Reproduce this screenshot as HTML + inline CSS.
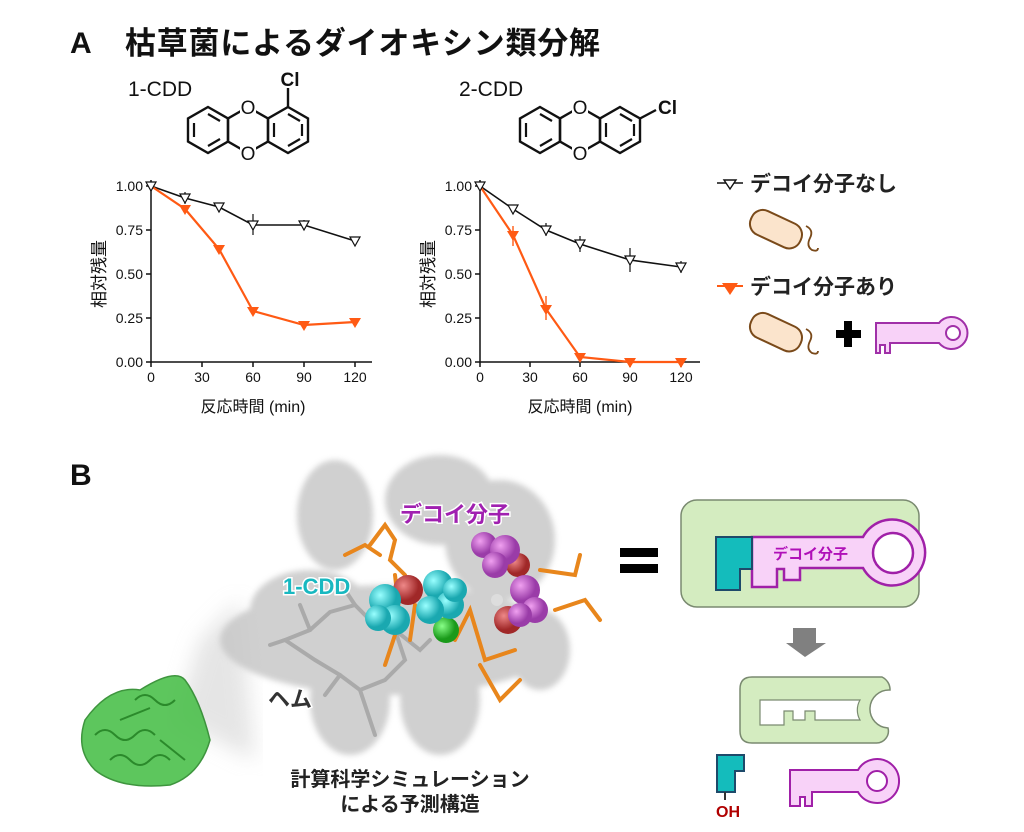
<!DOCTYPE html>
<html><head><meta charset="utf-8"><style>
html,body{margin:0;padding:0;background:#fff;}
svg{display:block;font-family:"Liberation Sans","Noto Sans CJK JP",sans-serif;}
</style></head><body>
<svg width="1024" height="832" viewBox="0 0 1024 832" xmlns="http://www.w3.org/2000/svg">
<defs>
<g id="ring"><polygon points="0,-23 20,-11.5 20,11.5 0,23 -20,11.5 -20,-11.5" fill="none" stroke="#111" stroke-width="2.4"/></g>
<filter id="bl"><feGaussianBlur stdDeviation="3"/></filter>
<filter id="bl2"><feGaussianBlur stdDeviation="10"/></filter>
<radialGradient id="cy" cx="35%" cy="35%"><stop offset="0" stop-color="#9ff"/><stop offset="1" stop-color="#1aa8b0"/></radialGradient>
<radialGradient id="mg" cx="35%" cy="35%"><stop offset="0" stop-color="#f0a0f0"/><stop offset="1" stop-color="#9a3ca8"/></radialGradient>
<radialGradient id="rd" cx="35%" cy="35%"><stop offset="0" stop-color="#e88"/><stop offset="1" stop-color="#a02828"/></radialGradient>
<radialGradient id="gr" cx="35%" cy="35%"><stop offset="0" stop-color="#8f8"/><stop offset="1" stop-color="#1a9a1a"/></radialGradient>
<g id="bact">
<rect x="0" y="0" width="54" height="26" rx="12" fill="#fbe4cc" stroke="#7a4a1a" stroke-width="2"/>
</g>
</defs>

<text x="70" y="53" font-size="30" font-weight="bold" fill="#111">A</text>
<text x="125" y="54" font-size="31" font-weight="bold" fill="#111" textLength="475">枯草菌によるダイオキシン類分解</text>

<text x="128" y="96" font-size="21" fill="#111">1-CDD</text>
<g transform="translate(208,130)"><use href="#ring"/><use href="#ring" x="40"/><use href="#ring" x="80"/>
<path d="M-14,-7 L-14,7 M0,-16 L12,-9 M0,16 L12,9" stroke="#111" stroke-width="2.2" fill="none"/>
<path d="M66,-7 L66,7" stroke="#111" stroke-width="2.2"/>
<path d="M80,-16 L92,-9 M94,-6 V6 M80,16 L92,9" stroke="#111" stroke-width="2.2" fill="none"/>
<path d="M80,-23 V-42" stroke="#111" stroke-width="2.4"/>
<rect x="32" y="-32" width="16" height="18" fill="#fff"/><rect x="32" y="14" width="16" height="18" fill="#fff"/>
<text x="40" y="-16" font-size="19" text-anchor="middle" fill="#111">O</text>
<text x="40" y="30" font-size="19" text-anchor="middle" fill="#111">O</text>
<text x="82" y="-44" font-size="19" font-weight="bold" text-anchor="middle" fill="#111">Cl</text>
</g>
<text x="459" y="96" font-size="21" fill="#111">2-CDD</text>
<g transform="translate(540,130)"><use href="#ring"/><use href="#ring" x="40"/><use href="#ring" x="80"/>
<path d="M-14,-7 L-14,7 M0,-16 L12,-9 M0,16 L12,9" stroke="#111" stroke-width="2.2" fill="none"/>
<path d="M66,-7 L66,7" stroke="#111" stroke-width="2.2"/>
<path d="M80,-16 L92,-9 M94,-6 V6 M80,16 L92,9" stroke="#111" stroke-width="2.2" fill="none"/>
<path d="M100,-11.5 L116,-20" stroke="#111" stroke-width="2.4"/>
<rect x="32" y="-32" width="16" height="18" fill="#fff"/><rect x="32" y="14" width="16" height="18" fill="#fff"/>
<text x="40" y="-16" font-size="19" text-anchor="middle" fill="#111">O</text>
<text x="40" y="30" font-size="19" text-anchor="middle" fill="#111">O</text>
<text x="118" y="-16" font-size="19" font-weight="bold" fill="#111">Cl</text>
</g>

<g font-size="14" fill="#111">
<path d="M151,180 V362 H372" stroke="#111" stroke-width="1.5" fill="none"/>
<g stroke="#111" stroke-width="1.5">
<line x1="146" y1="186" x2="151" y2="186"/><line x1="146" y1="230" x2="151" y2="230"/><line x1="146" y1="274" x2="151" y2="274"/><line x1="146" y1="318" x2="151" y2="318"/><line x1="146" y1="362" x2="151" y2="362"/>
<line x1="151" y1="362" x2="151" y2="367"/><line x1="202" y1="362" x2="202" y2="367"/><line x1="253" y1="362" x2="253" y2="367"/><line x1="304" y1="362" x2="304" y2="367"/><line x1="355" y1="362" x2="355" y2="367"/>
</g>
<g text-anchor="end"><text x="143" y="191">1.00</text><text x="143" y="235">0.75</text><text x="143" y="279">0.50</text><text x="143" y="323">0.25</text><text x="143" y="367">0.00</text></g>
<g text-anchor="middle"><text x="151" y="382">0</text><text x="202" y="382">30</text><text x="253" y="382">60</text><text x="304" y="382">90</text><text x="355" y="382">120</text></g>
<text x="253" y="412" font-size="16" text-anchor="middle">反応時間 (min)</text>
<text transform="translate(105,274) rotate(-90)" font-size="17" text-anchor="middle">相対残量</text>
<polyline points="151,186 185,198 219,207 253,225 304,225 355,241" fill="none" stroke="#111" stroke-width="1.6"/>
<g stroke="#111" stroke-width="1.2"><line x1="185" y1="192" x2="185" y2="204"/><line x1="253" y1="214" x2="253" y2="235"/><line x1="304" y1="220" x2="304" y2="230"/></g>
<polyline points="151,186 185,209 219,249 253,311 304,325 355,322" fill="none" stroke="#ff5a14" stroke-width="2.2"/>
</g>
<g font-size="14" fill="#111">
<path d="M480,180 V362 H700" stroke="#111" stroke-width="1.5" fill="none"/>
<g stroke="#111" stroke-width="1.5">
<line x1="475" y1="186" x2="480" y2="186"/><line x1="475" y1="230" x2="480" y2="230"/><line x1="475" y1="274" x2="480" y2="274"/><line x1="475" y1="318" x2="480" y2="318"/><line x1="475" y1="362" x2="480" y2="362"/>
<line x1="480" y1="362" x2="480" y2="367"/><line x1="530" y1="362" x2="530" y2="367"/><line x1="580" y1="362" x2="580" y2="367"/><line x1="630" y1="362" x2="630" y2="367"/><line x1="681" y1="362" x2="681" y2="367"/>
</g>
<g text-anchor="end"><text x="472" y="191">1.00</text><text x="472" y="235">0.75</text><text x="472" y="279">0.50</text><text x="472" y="323">0.25</text><text x="472" y="367">0.00</text></g>
<g text-anchor="middle"><text x="480" y="382">0</text><text x="530" y="382">30</text><text x="580" y="382">60</text><text x="630" y="382">90</text><text x="681" y="382">120</text></g>
<text x="580" y="412" font-size="16" text-anchor="middle">反応時間 (min)</text>
<text transform="translate(434,274) rotate(-90)" font-size="17" text-anchor="middle">相対残量</text>
<polyline points="480,186 513,209 546,230 580,244 630,260 681,267" fill="none" stroke="#111" stroke-width="1.6"/>
<g stroke="#111" stroke-width="1.2"><line x1="546" y1="223" x2="546" y2="236"/><line x1="580" y1="236" x2="580" y2="252"/><line x1="630" y1="248" x2="630" y2="272"/><line x1="681" y1="261" x2="681" y2="273"/></g>
<polyline points="480,186 513,235 546,309 580,357 630,362 681,362" fill="none" stroke="#ff5a14" stroke-width="2.2"/>
<g stroke="#ff5a14" stroke-width="1.4"><line x1="513" y1="226" x2="513" y2="246"/><line x1="546" y1="296" x2="546" y2="320"/></g>
</g>
<g fill="#fff" stroke="#111" stroke-width="1.2">
<path d="M-5,-4 H5 L0,5 Z" transform="translate(151,186)"/>
<path d="M-5,-4 H5 L0,5 Z" transform="translate(185,198)"/><path d="M-5,-4 H5 L0,5 Z" transform="translate(219,207)"/><path d="M-5,-4 H5 L0,5 Z" transform="translate(253,225)"/><path d="M-5,-4 H5 L0,5 Z" transform="translate(304,225)"/><path d="M-5,-4 H5 L0,5 Z" transform="translate(355,241)"/>
<path d="M-5,-4 H5 L0,5 Z" transform="translate(480,186)"/><path d="M-5,-4 H5 L0,5 Z" transform="translate(513,209)"/><path d="M-5,-4 H5 L0,5 Z" transform="translate(546,230)"/><path d="M-5,-4 H5 L0,5 Z" transform="translate(580,244)"/><path d="M-5,-4 H5 L0,5 Z" transform="translate(630,260)"/><path d="M-5,-4 H5 L0,5 Z" transform="translate(681,267)"/>
</g>
<g fill="#ff5a14">
<path d="M-6,-4 H6 L0,6 Z" transform="translate(185,209)"/><path d="M-6,-4 H6 L0,6 Z" transform="translate(219,249)"/><path d="M-6,-4 H6 L0,6 Z" transform="translate(253,311)"/><path d="M-6,-4 H6 L0,6 Z" transform="translate(304,325)"/><path d="M-6,-4 H6 L0,6 Z" transform="translate(355,322)"/>
<path d="M-6,-4 H6 L0,6 Z" transform="translate(513,235)"/><path d="M-6,-4 H6 L0,6 Z" transform="translate(546,309)"/><path d="M-6,-4 H6 L0,6 Z" transform="translate(580,357)"/><path d="M-6,-4 H6 L0,6 Z" transform="translate(630,362)"/><path d="M-6,-4 H6 L0,6 Z" transform="translate(681,362)"/>
</g>

<line x1="717" y1="183" x2="743" y2="183" stroke="#111" stroke-width="1.6"/>
<path d="M724,180 H736 L730,189 Z" fill="#fff" stroke="#111" stroke-width="1.4"/>
<text x="750" y="191" font-size="21" font-weight="bold" fill="#222">デコイ分子なし</text>
<g transform="translate(757,206) rotate(25)"><use href="#bact"/></g>
<path d="M806,226 q8,4 4,12 q-4,8 2,12 q6,2 6,-2" fill="none" stroke="#7a4a1a" stroke-width="1.8"/>
<line x1="717" y1="286" x2="743" y2="286" stroke="#ff5a14" stroke-width="2"/>
<path d="M722,283 H738 L730,295 Z" fill="#ff5a14"/>
<text x="750" y="294" font-size="21" font-weight="bold" fill="#222">デコイ分子あり</text>
<g transform="translate(757,309) rotate(25)"><use href="#bact"/></g>
<path d="M806,329 q8,4 4,12 q-4,8 2,12 q6,2 6,-2" fill="none" stroke="#7a4a1a" stroke-width="1.8"/>
<path d="M836,330 h8 v-9 h8 v9 h9 v8 h-9 v9 h-8 v-9 h-8 z" fill="#000"/>
<g transform="translate(876,323)"><path d="M0,0 H63 A16,16 0 1 1 63,20 H14 V30 H9 V22 H4 V30 H0 Z" fill="#f8d2f8" stroke="#a030a8" stroke-width="2"/><circle cx="77" cy="10" r="7" fill="#fff" stroke="#a030a8" stroke-width="2"/></g>

<text x="70" y="485" font-size="30" font-weight="bold" fill="#111">B</text>
<polygon points="200,640 240,600 255,760 175,720" fill="#ccc" opacity="0.5" filter="url(#bl2)"/>
<g fill="#c8c8c8" opacity="0.85" filter="url(#bl)">
<ellipse cx="335" cy="515" rx="38" ry="55"/>
<ellipse cx="440" cy="500" rx="55" ry="45"/>
<ellipse cx="500" cy="540" rx="55" ry="60"/>
<ellipse cx="390" cy="640" rx="170" ry="55"/>
<ellipse cx="350" cy="700" rx="40" ry="55"/>
<ellipse cx="440" cy="700" rx="40" ry="55"/>
<ellipse cx="310" cy="610" rx="60" ry="40"/>
<ellipse cx="540" cy="650" rx="30" ry="40"/>
</g>
<g stroke="#aaa" stroke-width="4" fill="none" stroke-linecap="round">
<path d="M285,640 L310,630 L330,612 L355,605 L370,620 L395,630 L405,660 L385,680 L360,690 L340,675 L315,660 Z"/>
<path d="M310,630 L300,605 M285,640 L270,645 M355,605 L345,590 M395,630 L420,650 L430,640 M360,690 L370,720 L375,735 M340,675 L325,695"/>
</g>
<g stroke="#e8861c" stroke-width="4" fill="none" stroke-linecap="round">
<path d="M370,545 L385,525 L395,540 L390,560 L405,575"/>
<path d="M345,555 L365,545 L380,555"/>
<path d="M395,575 L400,620 L385,665"/>
<path d="M415,605 L410,640"/>
<path d="M455,640 L470,610 L485,660 L515,650"/>
<path d="M540,570 L575,575 L580,555 M555,610 L585,600 L600,620"/>
<path d="M520,680 L500,700 L480,665"/>
</g>
<circle cx="408" cy="590" r="15" fill="url(#rd)"/>
<circle cx="508" cy="620" r="14" fill="url(#rd)"/>
<circle cx="518" cy="565" r="12" fill="url(#rd)"/>
<circle cx="446" cy="630" r="13" fill="url(#gr)"/>
<g fill="url(#cy)">
<circle cx="385" cy="600" r="16"/><circle cx="395" cy="620" r="15"/><circle cx="378" cy="618" r="13"/>
<circle cx="438" cy="585" r="15"/><circle cx="450" cy="605" r="14"/><circle cx="430" cy="610" r="14"/><circle cx="455" cy="590" r="12"/>
</g>
<g fill="url(#mg)">
<circle cx="484" cy="545" r="13"/><circle cx="505" cy="550" r="15"/><circle cx="495" cy="565" r="13"/>
<circle cx="525" cy="590" r="15"/><circle cx="535" cy="610" r="13"/><circle cx="520" cy="615" r="12"/>
</g>
<circle cx="497" cy="600" r="6" fill="#ddd"/>
<text x="400" y="522" font-size="22" font-weight="bold" fill="#a020b0" stroke="#fff" stroke-width="3" paint-order="stroke">デコイ分子</text>
<text x="283" y="594" font-size="22" font-weight="bold" fill="#18b8c0" stroke="#fff" stroke-width="3" paint-order="stroke">1-CDD</text>
<text x="268" y="707" font-size="22" font-weight="bold" fill="#333" stroke="#fff" stroke-width="3" paint-order="stroke">ヘム</text>
<g fill="#4cc04c" stroke="#2a8a2a" stroke-width="1.5">
<path d="M85,720 Q110,685 140,690 Q175,668 185,680 Q200,700 210,740 Q200,775 170,785 Q120,790 95,770 Q75,750 85,720 Z" opacity="0.9"/>
</g>
<g stroke="#1f7a1f" stroke-width="2" fill="none" opacity="0.8">
<path d="M95,735 q10,-10 20,0 q10,10 20,0 q10,-10 20,0 M110,760 q10,-10 20,0 q10,10 20,0 q10,-10 20,0 M135,700 q10,-10 20,0 q10,10 20,0 M120,720 l30,-12 M160,740 l25,20"/>
</g>
<text x="410" y="786" font-size="20" font-weight="bold" fill="#222" text-anchor="middle">計算科学シミュレーション</text>
<text x="410" y="811" font-size="20" font-weight="bold" fill="#222" text-anchor="middle">による予測構造</text>

<rect x="620" y="548" width="38" height="9" fill="#000"/><rect x="620" y="564" width="38" height="9" fill="#000"/>

<rect x="681" y="500" width="238" height="107" rx="16" fill="#d4ecc0" stroke="#7a8a70" stroke-width="1.5"/>
<path d="M752,537 H863 A33,33 0 1 1 863,568 H800 V580 H784 V569 H777 V587 H752 Z" fill="#f8d2f8" stroke="#a020a8" stroke-width="2.5"/>
<circle cx="893" cy="553" r="20" fill="#fff" stroke="#a020a8" stroke-width="2.5"/>
<path d="M716,537 H752 V569 H740 V590 H716 Z" fill="#14bcbc" stroke="#1e4a6a" stroke-width="2"/>
<text x="773" y="559" font-size="15" font-weight="bold" fill="#b010b8">デコイ分子</text>
<path d="M793,628 H816 V643 H826 L805,657 L786,643 H793 Z" fill="#808080"/>
<path d="M752,677 H882 A14,14 0 0 1 890,690 A18,18 0 1 0 888,728 A12,12 0 0 1 876,743 H752 Q740,743 740,731 V689 Q740,677 752,677 Z" fill="#d4ecc0" stroke="#7a8a70" stroke-width="1.5"/>
<path d="M760,700 H860 A20,20 0 0 0 860,720 H815 V711 H805 V720 H793 V711 H784 V725 H760 Z" fill="#fff" stroke="#7a8a70" stroke-width="1.2"/>
<path d="M717,755 H744 V771 H735 V792 H717 Z" fill="#14bcbc" stroke="#1e4a6a" stroke-width="2"/>
<line x1="725" y1="792" x2="725" y2="800" stroke="#333" stroke-width="2"/>
<text x="716" y="817" font-size="16" font-weight="bold" fill="#b00000">OH</text>
<g transform="translate(790,770)"><path d="M0,0 H68 A22,22 0 1 1 68,22 H22 V36 H15 V27 H10 V36 H0 Z" fill="#f8d2f8" stroke="#a020a8" stroke-width="2"/><circle cx="87" cy="11" r="10" fill="#fff" stroke="#a020a8" stroke-width="2"/></g>
</svg>
</body></html>
